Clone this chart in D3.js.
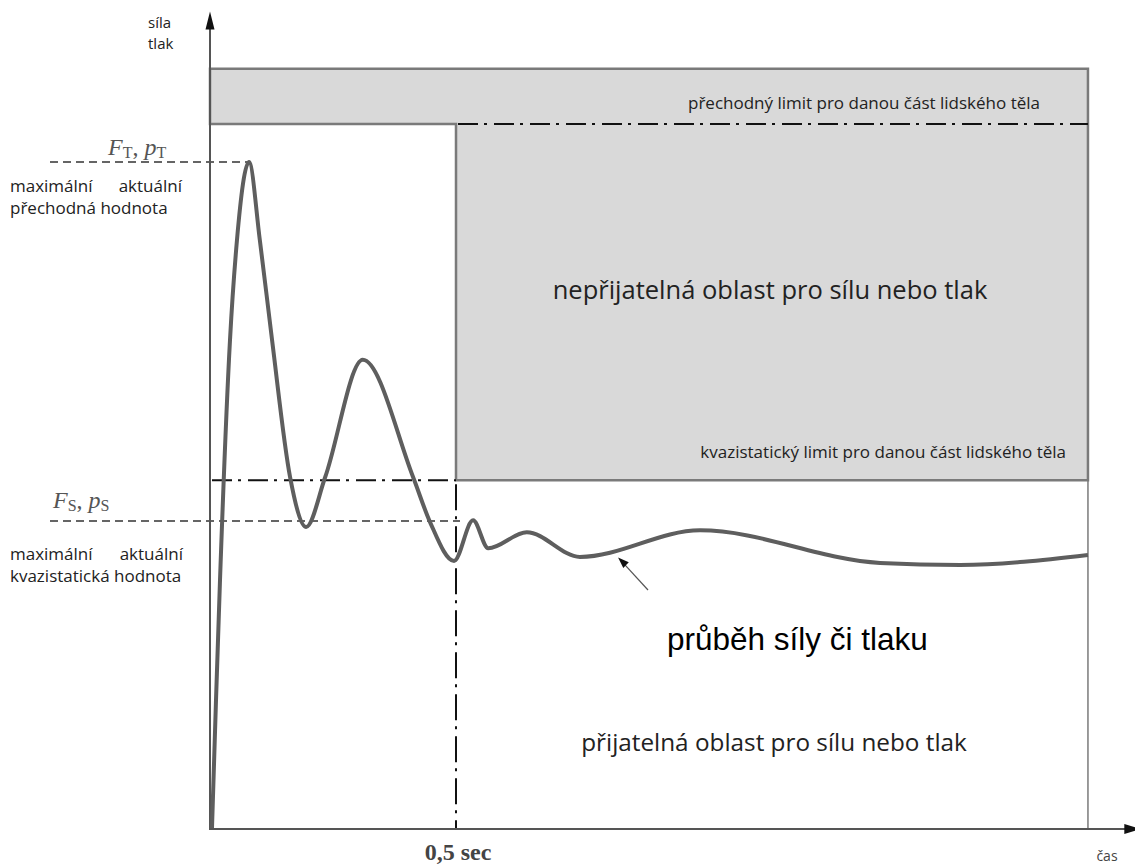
<!DOCTYPE html>
<html>
<head>
<meta charset="utf-8">
<script src="https://cdn.jsdelivr.net/npm/d3@7"></script>
<style>
  body { margin: 0; background: #fff; }
  svg { display: block; }
</style>
</head>
<body>
<svg id="chart_svg" width="1135" height="867"></svg>
<script>
// curve of force / pressure over time (t in sec, value relative to F_T = 100)
const curve_t = [0, 0.0082, 0.0164, 0.0369, 0.0512, 0.0758, 0.098, 0.123, 0.160, 0.193, 0.232, 0.309, 0.412, 0.447, 0.496, 0.535, 0.566, 0.645, 0.754, 1.0, 1.369, 1.533, 1.795];
const curve_v = [0, 19.2, 37.2, 73.3, 88.3, 100, 88.3, 73.3, 52.7, 45.2, 52.7, 70.3, 52.7, 45.9, 40.1, 46.2, 42.0, 44.4, 40.7, 44.7, 39.8, 39.5, 41.0];

// limits and marks
const transient_limit = 105.7;
const band_top = 114;
const quasistatic_limit = 52.2;
const peak_transient = 100;
const peak_quasistatic = 46.1;
const t_switch = 0.5;
const t_end = 1.795;
const t_axis_end = 1.89;
const v_axis_end = 122.6;

const texts_band = ['přechodný limit pro danou část lidského těla', 'kvazistatický limit pro danou část lidského těla'];
const texts_areas = ['nepřijatelná oblast pro sílu nebo tlak', 'přijatelná oblast pro sílu nebo tlak'];

const svg = d3.select('#chart_svg');

const x = d3.scaleLinear().domain([0, 1]).range([212, 700]);
const y = d3.scaleLinear().domain([0, 100]).range([828, 162]);

const grey = '#d9d9d9';
const edge = '#7a7a7a';
const ink = '#222';

/**
 * grey unacceptable area (L shape: band + region after 0.5 s)
 */
const area_pts = [
    [x(0) - 2, y(band_top)], [x(t_end), y(band_top)], [x(t_end), y(quasistatic_limit)],
    [x(t_switch), y(quasistatic_limit)], [x(t_switch), y(transient_limit)], [x(0) - 2, y(transient_limit)]
];
svg.append('path')
    .attr('d', d3.line()(area_pts) + 'Z')
    .attr('fill', grey)
    .attr('stroke', edge)
    .attr('stroke-width', 2.5);

// right border down to axis
svg.append('line')
    .attr('x1', x(t_end)).attr('x2', x(t_end))
    .attr('y1', y(quasistatic_limit)).attr('y2', y(0) + 1)
    .attr('stroke', edge).attr('stroke-width', 1.5);

/**
 * dash-dot limit lines
 */
const dashdot = '20,6,3,7';
svg.append('line')
    .attr('x1', x(t_switch) + 2).attr('x2', x(t_end))
    .attr('y1', y(transient_limit)).attr('y2', y(transient_limit))
    .attr('stroke', '#111').attr('stroke-width', 2).attr('stroke-dasharray', dashdot);
svg.append('line')
    .attr('x1', x(0)).attr('x2', x(t_switch))
    .attr('y1', y(quasistatic_limit)).attr('y2', y(quasistatic_limit))
    .attr('stroke', '#111').attr('stroke-width', 2).attr('stroke-dasharray', dashdot);
svg.append('line')
    .attr('x1', x(t_switch)).attr('x2', x(t_switch))
    .attr('y1', y(quasistatic_limit) + 4).attr('y2', y(0))
    .attr('stroke', '#111').attr('stroke-width', 2).attr('stroke-dasharray', '26,6,3,7');

/**
 * dashed peak value lines
 */
svg.append('line')
    .attr('x1', 50).attr('x2', x(0.0758))
    .attr('y1', y(peak_transient)).attr('y2', y(peak_transient))
    .attr('stroke', '#333').attr('stroke-width', 1.5).attr('stroke-dasharray', '8,5');
svg.append('line')
    .attr('x1', 50).attr('x2', x(t_switch) + 4)
    .attr('y1', y(peak_quasistatic)).attr('y2', y(peak_quasistatic))
    .attr('stroke', '#333').attr('stroke-width', 1.5).attr('stroke-dasharray', '8,5');

/**
 * axes with arrow heads
 */
svg.append('line')
    .attr('x1', x(0) - 2).attr('x2', x(0) - 2)
    .attr('y1', y(0) + 1).attr('y2', y(v_axis_end) + 10)
    .attr('stroke', '#555').attr('stroke-width', 2);
svg.append('path')
    .attr('d', d3.line()([[x(0) - 2, y(v_axis_end)], [x(0) - 6.5, y(v_axis_end) + 18], [x(0) + 2.5, y(v_axis_end) + 18]]) + 'Z')
    .attr('fill', '#111');
svg.append('line')
    .attr('x1', x(0) - 3).attr('x2', x(t_axis_end) - 8)
    .attr('y1', y(0) + 1).attr('y2', y(0) + 1)
    .attr('stroke', '#555').attr('stroke-width', 2);
svg.append('path')
    .attr('d', d3.line()([[x(t_axis_end) + 6, y(0) + 1], [x(t_axis_end) - 10, y(0) - 4], [x(t_axis_end) - 10, y(0) + 6]]) + 'Z')
    .attr('fill', '#111');

/**
 * the force / pressure curve
 */
const curve_data = curve_t.map((t, i) => ({ t: t, v: curve_v[i] }));
svg.append('path')
    .datum(curve_data)
    .attr('d', d3.line().x((d) => x(d.t)).y((d) => y(d.v)).curve(d3.curveMonotoneX))
    .attr('fill', 'none')
    .attr('stroke', '#5e5e5e')
    .attr('stroke-width', 4)
    .attr('stroke-linejoin', 'round');

// pointer to the curve
svg.append('line')
    .attr('x1', 648).attr('x2', x(0.83) + 4)
    .attr('y1', 590).attr('y2', y(40.9) + 5)
    .attr('stroke', '#555').attr('stroke-width', 1.2);
svg.append('path')
    .attr('d', 'M0,0 L-11,-4 L-11,4 Z')
    .attr('fill', '#111')
    .attr('transform', `translate(${x(0.83) + 1},${y(40.9) + 2}) rotate(${Math.atan2(-33, -35) * 180 / Math.PI})`);

/**
 * texts
 */
const sans = 'Open Sans, Noto Sans, sans-serif';

svg.append('text').attr('x', 148).attr('y', 28).text('síla')
    .attr('font-family', sans).attr('font-size', 15).attr('fill', ink);
svg.append('text').attr('x', 148).attr('y', 49).text('tlak')
    .attr('font-family', sans).attr('font-size', 15).attr('fill', ink);

function serif_label(px, py, sub) {
    const t = svg.append('text').attr('x', px).attr('y', py)
        .attr('font-family', 'Liberation Serif, DejaVu Serif, serif').attr('font-size', 24).attr('fill', '#555');
    t.append('tspan').attr('font-style', 'italic').text('F');
    t.append('tspan').attr('font-size', 16).attr('dy', 3).text(sub);
    t.append('tspan').attr('dy', -3).text(', ');
    t.append('tspan').attr('font-style', 'italic').text('p');
    t.append('tspan').attr('font-size', 16).attr('dy', 3).text(sub);
}
serif_label(108, y(peak_transient) - 7, 'T');
serif_label(53, y(peak_quasistatic) - 13, 'S');

function two_word(px1, px2, py, a, b) {
    svg.append('text').attr('x', px1).attr('y', py).text(a)
        .attr('font-family', sans).attr('font-size', 17).attr('fill', ink);
    svg.append('text').attr('x', px2).attr('y', py).text(b).attr('text-anchor', 'end')
        .attr('font-family', sans).attr('font-size', 17).attr('fill', ink);
}
two_word(10, 182, 192, 'maximální', 'aktuální');
svg.append('text').attr('x', 10).attr('y', 214).text('přechodná hodnota')
    .attr('font-family', sans).attr('font-size', 17).attr('fill', ink);
two_word(10, 183, 560, 'maximální', 'aktuální');
svg.append('text').attr('x', 10).attr('y', 582).text('kvazistatická hodnota')
    .attr('font-family', sans).attr('font-size', 17).attr('fill', ink);

svg.append('text').attr('x', 1040).attr('y', 109).text(texts_band[0]).attr('text-anchor', 'end')
    .attr('font-family', sans).attr('font-size', 17).attr('fill', ink);
svg.append('text').attr('x', 1066).attr('y', 458).text(texts_band[1]).attr('text-anchor', 'end')
    .attr('font-family', sans).attr('font-size', 17).attr('fill', ink);

svg.append('text').attr('x', 770).attr('y', 299).text(texts_areas[0]).attr('text-anchor', 'middle')
    .attr('font-family', sans).attr('font-size', 25.5).attr('fill', ink);
svg.append('text').attr('x', 774).attr('y', 751).text(texts_areas[1]).attr('text-anchor', 'middle')
    .attr('font-family', sans).attr('font-size', 24.3).attr('fill', ink);

svg.append('text').attr('x', 667).attr('y', 650).text('průběh síly či tlaku')
    .attr('font-family', 'Liberation Sans, Arial, sans-serif').attr('font-size', 31.5).attr('fill', '#000');

svg.append('text').attr('x', x(t_switch) + 2).attr('y', 860).text('0,5 sec').attr('text-anchor', 'middle')
    .attr('font-family', 'Liberation Serif, DejaVu Serif, serif').attr('font-size', 24).attr('font-weight', 'bold').attr('fill', '#444');

svg.append('text').attr('x', 1107).attr('y', 861).text('čas').attr('text-anchor', 'middle')
    .attr('font-family', sans).attr('font-size', 14).attr('fill', '#444');
</script>
</body>
</html>
